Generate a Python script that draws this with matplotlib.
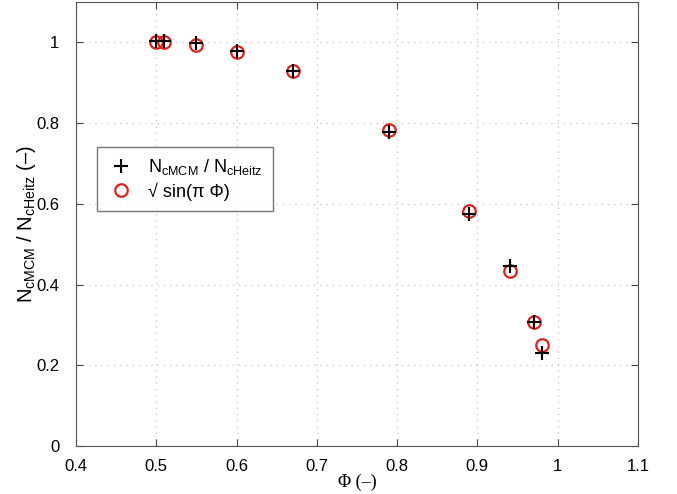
import matplotlib
matplotlib.use("Agg")
import matplotlib.pyplot as plt

phi = [0.50, 0.51, 0.55, 0.60, 0.67, 0.79, 0.89, 0.94, 0.97, 0.98]
ratio_mcm = [1.003, 1.003, 0.998, 0.978, 0.928, 0.778, 0.574, 0.446, 0.307, 0.231]
sqrt_sin = [1.000, 1.000, 0.994, 0.975, 0.928, 0.783, 0.582, 0.434, 0.307, 0.251]
xticks = [0.4, 0.5, 0.6, 0.7, 0.8, 0.9, 1.0, 1.1]
xticklabels = ["0.4", "0.5", "0.6", "0.7", "0.8", "0.9", "1", "1.1"]
yticks = [0, 0.2, 0.4, 0.6, 0.8, 1.0]
yticklabels = ["0", "0.2", "0.4", "0.6", "0.8", "1"]

plt.rcParams['font.family'] = ['Liberation Sans', 'DejaVu Sans']
plt.rcParams['mathtext.fontset'] = 'custom'
plt.rcParams['mathtext.rm'] = 'Liberation Sans'
plt.rcParams['mathtext.it'] = 'Liberation Sans'

fig = plt.figure(figsize=(6.77, 4.94), dpi=100)
ax = fig.add_axes([76/677, 1-446/494, (638-76)/677, (446-2)/494])

ax.plot(phi, ratio_mcm, linestyle='none', marker='+', color='black',
        markersize=10, markeredgewidth=1.5,
        label=r'$\mathrm{N_{cMCM}}$ / $\mathrm{N_{cHeitz}}$', zorder=3)
ax.plot(phi, sqrt_sin, linestyle='none', marker='o', markerfacecolor='none',
        markeredgecolor='#e0201b', markersize=9, markeredgewidth=1.6,
        label='\u221a sin(\u03c0 \u03a6)', zorder=2)

ax.set_xlim(0.4, 1.1)
ax.set_ylim(0, 1.1)
ax.set_xticks(xticks)
ax.set_xticklabels(xticklabels)
ax.set_yticks(yticks)
ax.set_yticklabels(yticklabels)
ax.tick_params(direction='in', top=True, right=True, labelsize=12, length=5,
               width=0.8, colors='#444444', labelcolor='black')
ax.tick_params(axis='x', pad=9)
ax.tick_params(axis='y', pad=12)
for s in ax.spines.values():
    s.set_color('#555555')
    s.set_linewidth(0.8)
ax.grid(True, linestyle=(0, (1, 4)), color='#c4c4c4', linewidth=0.9)

ax.set_xlabel('\u03a6 (\u2013)', fontsize=13, family=['Liberation Serif', 'DejaVu Serif'], labelpad=0)
ax.set_ylabel(r'$\mathrm{N_{cMCM}}$ / $\mathrm{N_{cHeitz}}$' + ' (\u2013)', fontsize=14.5, labelpad=-1)

leg = ax.legend(loc='upper left', bbox_to_anchor=(21/562, 1-(147-2)/444), borderaxespad=0,
                fontsize=13, frameon=True, fancybox=False, edgecolor='#555555',
                borderpad=0.55, handletextpad=0.7, labelspacing=0.3, handlelength=1.6)
leg.get_frame().set_linewidth(1.0)

fig.savefig('out.png', dpi=100)
